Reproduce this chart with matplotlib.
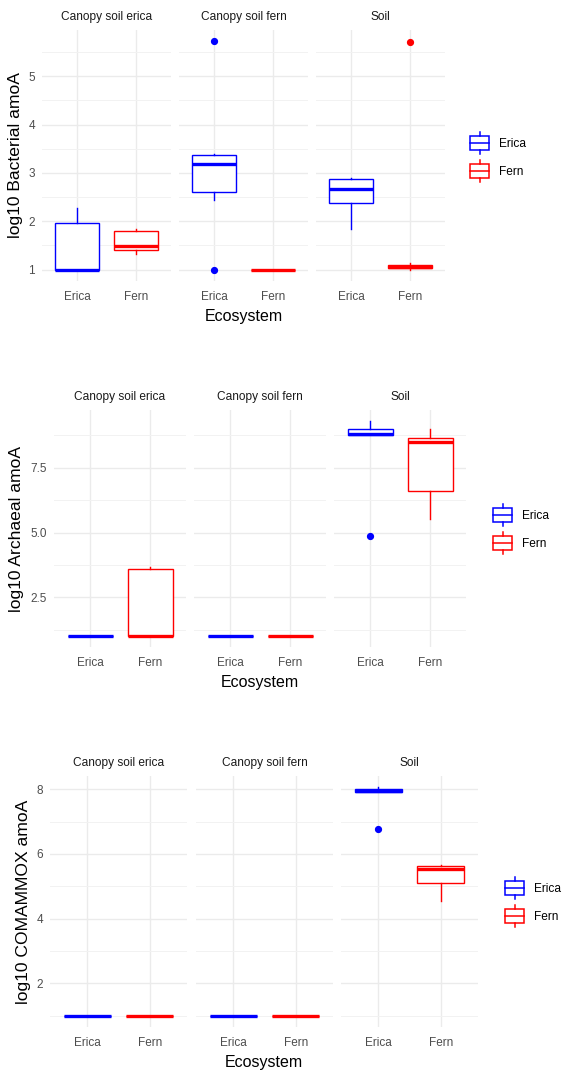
import matplotlib
matplotlib.use("Agg")
import matplotlib.pyplot as plt
from matplotlib.patches import Rectangle, Patch
from matplotlib.lines import Line2D
from matplotlib.legend_handler import HandlerBase
from matplotlib.ticker import MultipleLocator, FormatStrFormatter

plt.rcParams['font.family'] = ['Liberation Sans', 'DejaVu Sans']

facets = ["Canopy soil erica", "Canopy soil fern", "Soil"]
ecosystems = ["Erica", "Fern"]
colors = {"Erica": "#0000FF", "Fern": "#FF0000"}

# five-number summaries per facet: (whisker low, q1, median, q3, whisker high)
bact_erica = [(1.00, 1.00, 1.00, 1.96, 2.27), (2.43, 2.60, 3.19, 3.37, 3.39), (1.83, 2.37, 2.66, 2.87, 2.90)]
bact_fern = [(1.32, 1.41, 1.49, 1.80, 1.84), (1.00, 1.00, 1.00, 1.00, 1.00), (1.00, 1.03, 1.06, 1.10, 1.13)]
bact_erica_out = [[], [5.72, 1.00], []]
bact_fern_out = [[], [], [5.71]]

arch_erica = [(1.00, 1.00, 1.00, 1.00, 1.00), (1.00, 1.00, 1.00, 1.00, 1.00), (8.76, 8.76, 8.79, 9.00, 9.31)]
arch_fern = [(1.00, 1.00, 1.00, 3.60, 3.68), (1.00, 1.00, 1.00, 1.00, 1.00), (5.53, 6.59, 8.49, 8.66, 9.00)]
arch_erica_out = [[], [], [4.87]]
arch_fern_out = [[], [], []]

coma_erica = [(1.00, 1.00, 1.00, 1.00, 1.00), (1.00, 1.00, 1.00, 1.00, 1.00), (7.91, 7.91, 7.96, 8.02, 8.06)]
coma_fern = [(1.00, 1.00, 1.00, 1.00, 1.00), (1.00, 1.00, 1.00, 1.00, 1.00), (4.56, 5.10, 5.54, 5.64, 5.66)]
coma_erica_out = [[], [], [6.77]]
coma_fern_out = [[], [], []]

W, H = 568, 1073
fig = plt.figure(figsize=(W / 100, H / 100), dpi=100)


def rect(x0, y0, x1, y1):
    return [x0 / W, 1 - y1 / H, (x1 - x0) / W, (y1 - y0) / H]


class BoxKeyHandler(HandlerBase):
    """Legend key drawn as a small boxplot glyph."""
    def create_artists(self, legend, orig_handle, xdescent, ydescent,
                       width, height, fontsize, trans):
        c = orig_handle.get_edgecolor()
        x0, y0 = -xdescent, -ydescent
        bh = height * 0.64
        by = y0 + (height - bh) / 2
        box = Rectangle((x0, by), width, bh, facecolor="white", edgecolor=c,
                        linewidth=1.1, transform=trans)
        cx = x0 + width / 2
        med = Line2D([x0, x0 + width], [y0 + height / 2] * 2, color=c, lw=1.1, transform=trans)
        w1 = Line2D([cx, cx], [by + bh, y0 + height], color=c, lw=1.1, transform=trans)
        w2 = Line2D([cx, cx], [y0, by], color=c, lw=1.1, transform=trans)
        return [box, med, w1, w2]


def draw_row(panels_px, ytop, ybot, erica, fern, erica_out, fern_out,
             ylabel, ylabel_x, major, minor, fmt, legend_xy):
    axes = []
    for i, (x0, x1) in enumerate(panels_px):
        ax = fig.add_axes(rect(x0, ytop, x1, ybot))
        for j, (eco, stats, outs) in enumerate([("Erica", erica, erica_out),
                                                 ("Fern", fern, fern_out)]):
            lo, q1, med, q3, hi = stats[i]
            c = colors[eco]
            ax.bxp([dict(whislo=lo, q1=q1, med=med, q3=q3, whishi=hi, fliers=outs[i])],
                   positions=[j + 1], widths=0.75, showcaps=False, patch_artist=True,
                   boxprops=dict(facecolor="white", edgecolor=c, linewidth=1.0),
                   medianprops=dict(color=c, linewidth=2.4, solid_capstyle="butt"),
                   whiskerprops=dict(color=c, linewidth=1.0),
                   flierprops=dict(marker="o", markerfacecolor=c, markeredgecolor=c,
                                   markersize=4.2), zorder=3)
        ax.set_xlim(0.4, 2.6)
        ax.set_xticks([1, 2])
        ax.set_xticklabels(ecosystems)
        ax.yaxis.set_major_locator(MultipleLocator(major))
        ax.yaxis.set_minor_locator(MultipleLocator(minor))
        ax.grid(True, which="major", color="#EBEBEB", lw=1.0, zorder=0)
        ax.grid(True, which="minor", axis="y", color="#F2F2F2", lw=0.7, zorder=0)
        ax.set_axisbelow(True)
        for s in ax.spines.values():
            s.set_visible(False)
        ax.tick_params(which="both", length=0, labelsize=8.5, labelcolor="#4D4D4D", pad=5)
        ax.tick_params(axis="x", pad=7)
        ax.annotate(facets[i], xy=(0.5, 1), xycoords="axes fraction",
                    xytext=(0, 9.2), textcoords="offset points", ha="center",
                    va="center", fontsize=8.6, color="#1A1A1A")
        axes.append(ax)
    # shared y range with 5% padding around all values
    vals = [v for s in erica + fern for v in s] + \
           [v for o in erica_out + fern_out for v in o]
    dmin, dmax = min(vals), max(vals)
    pad = (dmax - dmin) * 0.05
    for k, ax in enumerate(axes):
        ax.set_ylim(dmin - pad, dmax + pad)
        ax.yaxis.set_major_formatter(fmt)
        if k > 0:
            ax.tick_params(axis="y", labelleft=False)
    fig.text(ylabel_x / W, 1 - ((ytop + ybot) / 2) / H, ylabel, rotation=90,
             ha="center", va="center", fontsize=12.6, color="black")
    xc = (panels_px[0][0] + panels_px[-1][1]) / 2
    fig.text(xc / W, 1 - (ybot + 36) / H, "Ecosystem", ha="center", va="center",
             fontsize=11.5, color="black")
    handles = [Patch(facecolor="white", edgecolor=colors[e]) for e in ecosystems]
    fig.legend(handles, ecosystems, loc="center left",
               bbox_to_anchor=(legend_xy[0] / W, 1 - legend_xy[1] / H),
               frameon=False, fontsize=8.6, handler_map={Patch: BoxKeyHandler()},
               handlelength=1.6, handleheight=2.46, handletextpad=0.85,
               labelspacing=0.5, borderpad=0, borderaxespad=0)


fmt_int = FormatStrFormatter("%d")
fmt_1 = FormatStrFormatter("%.1f")

draw_row([(42, 171), (179, 308), (316, 445)], 30, 281,
         bact_erica, bact_fern, bact_erica_out, bact_fern_out,
         "log10 Bacterial amoA", 16, 1, 0.5, fmt_int, (470, 157))
draw_row([(54, 186), (194, 326), (334, 466)], 410, 647,
         arch_erica, arch_fern, arch_erica_out, arch_fern_out,
         "log10 Archaeal amoA", 17, 2.5, 1.25, fmt_1, (493, 529))
draw_row([(50, 187), (196, 333), (341, 478)], 776, 1027,
         coma_erica, coma_fern, coma_erica_out, coma_fern_out,
         "log10 COMAMMOX amoA", 24, 2, 1, fmt_int, (505, 902))

fig.savefig("out.png", dpi=100, facecolor="white")
